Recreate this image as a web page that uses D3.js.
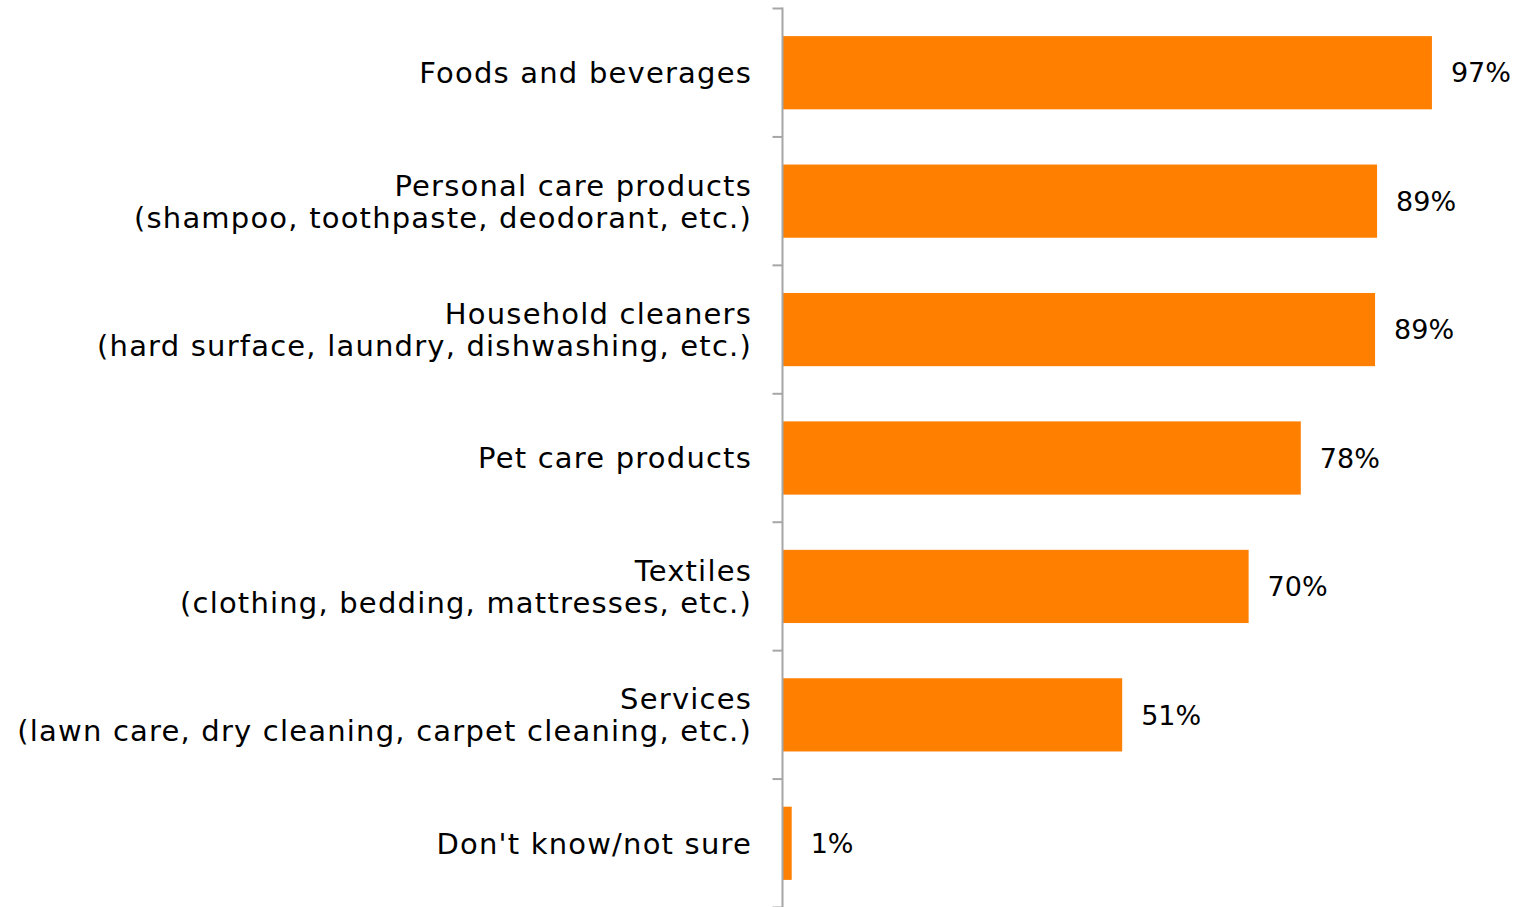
<!DOCTYPE html>
<html><head><meta charset="utf-8">
<script src="https://cdn.jsdelivr.net/npm/d3@7"></script>
<style>body{margin:0;background:#fff}svg{display:block}</style>
</head><body>
<svg id="c" width="1520" height="907"></svg>
<script>
const categories = [
  ["Foods and beverages"],
  ["Personal care products", "(shampoo, toothpaste, deodorant, etc.)"],
  ["Household cleaners", "(hard surface, laundry, dishwashing, etc.)"],
  ["Pet care products"],
  ["Textiles", "(clothing, bedding, mattresses, etc.)"],
  ["Services", "(lawn care, dry cleaning, carpet cleaning, etc.)"],
  ["Don't know/not sure"]
];
const values = [97.0, 88.8, 88.5, 77.4, 69.6, 50.7, 1.3];
const valueLabels = ["97%", "89%", "89%", "78%", "70%", "51%", "1%"];

(function () {
const svg = d3.select("#c");
const axisX = 782.5, plotTop = 8.5, plotBottom = 907.5;
const font = "'Century Gothic','DejaVu Sans',sans-serif";
const ids = categories.map((d, i) => i);

const y = d3.scaleBand().domain(ids).range([plotTop, plotBottom]).paddingInner(0.43).paddingOuter(0.215);
const x = d3.scaleLinear().domain([0, 100]).range([axisX + 0.5, 1452]);

svg.selectAll("rect.bar").data(values).join("rect")
  .attr("class", "bar")
  .attr("x", x(0))
  .attr("y", (d, i) => y(i))
  .attr("width", d => x(d) - x(0))
  .attr("height", y.bandwidth())
  .attr("fill", "#FF7F00");

const step = y.step();
const g = svg.append("g").attr("stroke", "#A6A6A6").attr("stroke-width", 2);
g.append("line").attr("x1", axisX).attr("x2", axisX).attr("y1", plotTop - 1).attr("y2", plotBottom);
d3.range(categories.length + 1).forEach(i => {
  const yy = plotTop + i * step;
  g.append("line").attr("x1", axisX - 10).attr("x2", axisX).attr("y1", yy).attr("y2", yy);
});

const lh = 32;
categories.forEach((lines, i) => {
  const cy = y(i) + y.bandwidth() / 2;
  lines.forEach((s, k) => {
    svg.append("text")
      .attr("text-anchor", "end")
      .attr("font-family", font)
      .attr("font-size", 29)
      .attr("letter-spacing", 1.2)
      .attr("fill", "#000")
      .attr("x", 752)
      .attr("y", cy + (k - (lines.length - 1) / 2) * lh)
      .attr("dy", "0.36em").text(s);
  });
});

svg.selectAll("text.val").data(values).join("text")
  .attr("class", "val")
  .attr("x", d => x(d) + 19)
  .attr("y", (d, i) => y(i) + y.bandwidth() / 2)
  .attr("dy", "0.36em")
  .attr("font-family", font)
  .attr("font-size", 27)
  .attr("fill", "#000")
  .text((d, i) => valueLabels[i]);
})();
</script>
</body></html>
